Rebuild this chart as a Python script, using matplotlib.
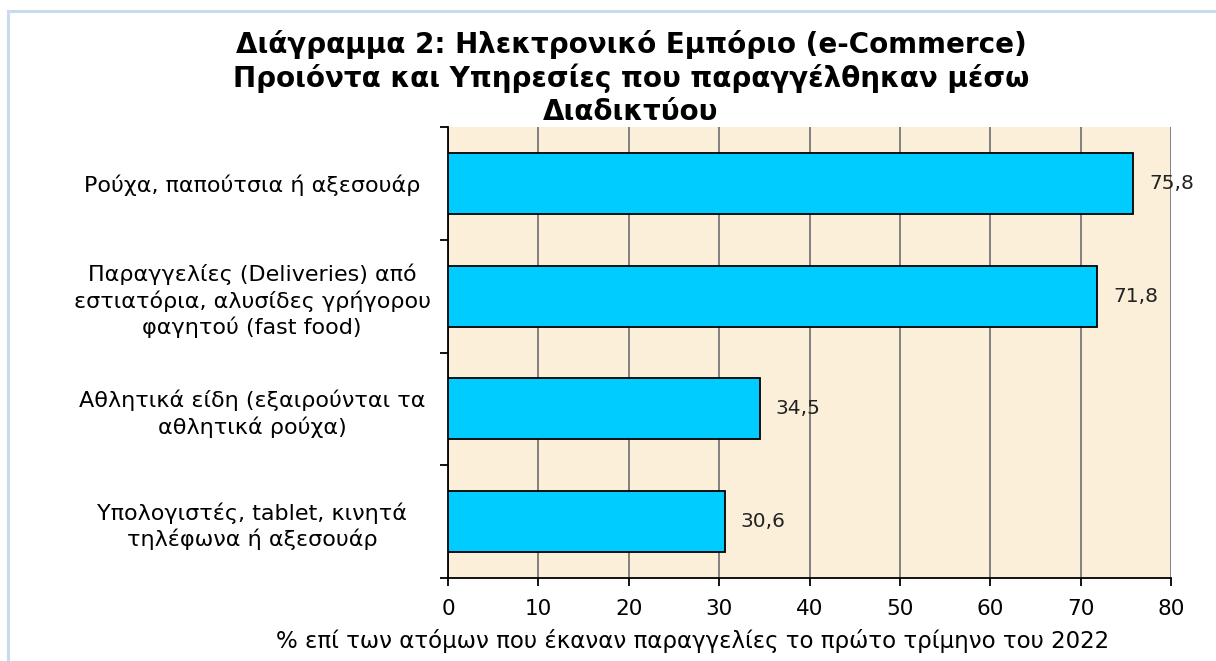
import matplotlib
matplotlib.use("Agg")
import matplotlib.pyplot as plt
from matplotlib.lines import Line2D

categories = [
    "Ρούχα, παπούτσια ή αξεσουάρ",
    "Παραγγελίες (Deliveries) από\nεστιατόρια, αλυσίδες γρήγορου\nφαγητού (fast food)",
    "Αθλητικά είδη (εξαιρούνται τα\nαθλητικά ρούχα)",
    "Υπολογιστές, tablet, κινητά\nτηλέφωνα ή αξεσουάρ",
]
values = [75.8, 71.8, 34.5, 30.6]
value_labels = ["75,8", "71,8", "34,5", "30,6"]
xticks = [0, 10, 20, 30, 40, 50, 60, 70, 80]
title = "Διάγραμμα 2: Ηλεκτρονικό Εμπόριο (e-Commerce)\nΠροιόντα και Υπηρεσίες που παραγγέλθηκαν μέσω\nΔιαδικτύου"
xlabel = "% επί των ατόμων που έκαναν παραγγελίες το πρώτο τρίμηνο του 2022"

plt.rcParams['font.family'] = ['DejaVu Sans']

W, H = 1216, 661
fig = plt.figure(figsize=(W / 100, H / 100), dpi=100)
fig.patch.set_facecolor("white")

# light blue frame
fig.add_artist(Line2D([8 / W, 8 / W], [0, 1 - 11 / H], transform=fig.transFigure, color="#C9D9EE", lw=2.2))
fig.add_artist(Line2D([8 / W, 1], [1 - 11 / H, 1 - 11 / H], transform=fig.transFigure, color="#C9D9EE", lw=2.2))

ax = fig.add_axes([448 / W, 1 - 578 / H, (1171 - 448) / W, (578 - 127) / H])
ax.set_facecolor("#FBEFD9")

n = len(categories)
pos = [n - 0.5 - i for i in range(n)]
ax.barh(pos, values, height=0.54, color="#00CCFF", edgecolor="black", linewidth=1.3, zorder=3)

for p, v, lab in zip(pos, values, value_labels):
    ax.annotate(lab, xy=(v, p), xytext=(16, 0), textcoords="offset pixels",
                ha="left", va="center", fontsize=14.5, color="#222222", zorder=4)

ax.set_xlim(0, 80)
ax.set_ylim(0, n)
ax.set_xticks(xticks)
ax.set_xticklabels([str(t) for t in xticks], fontsize=15.5)
ax.xaxis.grid(True, color="#808080", lw=1.4, zorder=1)
ax.set_axisbelow(True)

ax.set_yticks(range(n + 1))
ax.set_yticklabels([])
ax.set_yticks(pos, minor=True)
ax.set_yticklabels(categories, minor=True, fontsize=16, ha="center", multialignment="center",
                   linespacing=1.3)
ax.tick_params(axis="y", which="minor", length=0, pad=196 * 0.72)
ax.tick_params(axis="y", which="major", length=6, width=1.3, direction="out")
ax.tick_params(axis="x", length=6, width=1.3, direction="out", pad=9)

for s in ["top", "right"]:
    ax.spines[s].set_visible(False)
for s in ["left", "bottom"]:
    ax.spines[s].set_linewidth(1.3)
    ax.spines[s].set_color("black")

fig.text(631 / W, 1 - 78 / H, title, ha="center", va="center", fontsize=20,
         fontweight="bold", linespacing=1.2)
fig.text(693 / W, 1 - 641 / H, xlabel, ha="center", va="center", fontsize=16.5)

fig.savefig("out.png", dpi=100)
